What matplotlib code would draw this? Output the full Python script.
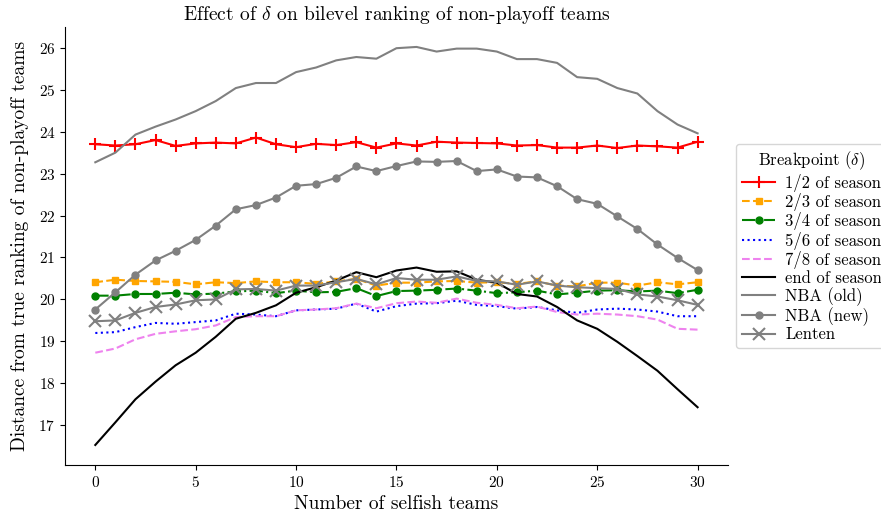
import matplotlib
matplotlib.use("Agg")
import matplotlib.pyplot as plt
import numpy as np

plt.rcParams.update({
    'font.family': 'serif',
    'font.serif': ['cmr10'],
    'mathtext.fontset': 'cm',
    'axes.formatter.use_mathtext': True,
    'axes.unicode_minus': False,
})

x = list(range(31))

half = [23.70, 23.67, 23.70, 23.80, 23.66, 23.72, 23.74, 23.72, 23.86, 23.70,
        23.63, 23.71, 23.68, 23.75, 23.62, 23.72, 23.67, 23.76, 23.74, 23.73,
        23.72, 23.67, 23.68, 23.62, 23.62, 23.67, 23.61, 23.67, 23.65, 23.62, 23.76]
two_thirds = [20.41, 20.47, 20.44, 20.43, 20.42, 20.36, 20.41, 20.39, 20.43, 20.41,
              20.41, 20.37, 20.43, 20.49, 20.33, 20.40, 20.40, 20.43, 20.44, 20.40,
              20.41, 20.37, 20.43, 20.33, 20.31, 20.40, 20.40, 20.33, 20.41, 20.36, 20.41]
three_quarters = [20.09, 20.09, 20.13, 20.13, 20.16, 20.12, 20.14, 20.19, 20.21, 20.15,
                  20.21, 20.17, 20.18, 20.27, 20.08, 20.20, 20.21, 20.23, 20.26, 20.21,
                  20.15, 20.17, 20.21, 20.12, 20.16, 20.21, 20.22, 20.19, 20.21, 20.15, 20.23]
five_sixths = [19.20, 19.22, 19.34, 19.44, 19.42, 19.46, 19.50, 19.66, 19.64, 19.60,
               19.74, 19.76, 19.78, 19.90, 19.71, 19.84, 19.90, 19.91, 19.97, 19.87,
               19.84, 19.78, 19.82, 19.74, 19.68, 19.76, 19.78, 19.76, 19.71, 19.60, 19.60]
seven_eighths = [18.73, 18.83, 19.05, 19.18, 19.24, 19.29, 19.38, 19.58, 19.60, 19.60,
                 19.74, 19.76, 19.79, 19.90, 19.79, 19.91, 19.95, 19.92, 20.02, 19.92,
                 19.87, 19.79, 19.83, 19.70, 19.64, 19.66, 19.64, 19.60, 19.52, 19.30, 19.28]
end_season = [16.53, 17.07, 17.62, 18.04, 18.43, 18.73, 19.11, 19.54, 19.68, 19.86,
              20.16, 20.29, 20.45, 20.65, 20.53, 20.69, 20.76, 20.66, 20.67, 20.47,
              20.40, 20.13, 20.07, 19.82, 19.50, 19.30, 18.99, 18.65, 18.30, 17.86, 17.43]
nba_old = [23.27, 23.50, 23.93, 24.12, 24.29, 24.49, 24.73, 25.04, 25.16, 25.16,
           25.42, 25.53, 25.70, 25.78, 25.74, 25.99, 26.02, 25.91, 25.98, 25.98,
           25.91, 25.73, 25.73, 25.64, 25.30, 25.26, 25.04, 24.91, 24.49, 24.17, 23.96]
nba_new = [19.76, 20.17, 20.59, 20.93, 21.16, 21.42, 21.76, 22.15, 22.25, 22.43,
           22.71, 22.75, 22.90, 23.17, 23.06, 23.18, 23.29, 23.28, 23.30, 23.06,
           23.10, 22.93, 22.91, 22.70, 22.39, 22.28, 21.98, 21.68, 21.31, 20.99, 20.70]
lenten = [19.48, 19.50, 19.68, 19.82, 19.88, 19.98, 20.00, 20.24, 20.25, 20.21,
          20.33, 20.33, 20.41, 20.49, 20.36, 20.51, 20.47, 20.47, 20.55, 20.44,
          20.43, 20.35, 20.43, 20.33, 20.29, 20.27, 20.25, 20.12, 20.07, 19.98, 19.87]

labels = ['1/2 of season', '2/3 of season', '3/4 of season', '5/6 of season',
          '7/8 of season', 'end of season', 'NBA (old)', 'NBA (new)', 'Lenten']

fig = plt.figure(figsize=(8.81, 5.2), dpi=100)
ax = fig.add_axes([0.074, 0.106, 0.752, 0.842])

ax.plot(x, half, color='red', marker='+', markersize=9, mew=1.5, lw=1.5, label=labels[0])
ax.plot(x, two_thirds, color='orange', marker='s', markersize=4.5, ls='--', lw=1.5, label=labels[1])
ax.plot(x, three_quarters, color='green', marker='o', markersize=5, ls='-.', lw=1.5, label=labels[2])
ax.plot(x, five_sixths, color='blue', ls=':', lw=1.5, label=labels[3])
ax.plot(x, seven_eighths, color='violet', ls='--', lw=1.5, label=labels[4])
ax.plot(x, end_season, color='black', lw=1.5, label=labels[5])
ax.plot(x, nba_old, color='gray', lw=1.5, label=labels[6])
ax.plot(x, nba_new, color='gray', marker='o', markersize=5, lw=1.5, label=labels[7])
ax.plot(x, lenten, color='gray', marker='x', markersize=9, mew=1.5, lw=1.5, label=labels[8])

ax.spines['top'].set_visible(False)
ax.spines['right'].set_visible(False)
ax.set_xticks([0, 5, 10, 15, 20, 25, 30])
ax.set_yticks([17, 18, 19, 20, 21, 22, 23, 24, 25, 26])
ax.tick_params(labelsize=11)

ax.set_title(r'Effect of $\delta$ on bilevel ranking of non-playoff teams', fontsize=14, pad=5)
ax.set_xlabel('Number of selfish teams', fontsize=14, labelpad=4)
ax.set_ylabel('Distance from true ranking of non-playoff teams', fontsize=14, labelpad=7)

ax.legend(title=r'Breakpoint ($\delta$)', loc='center left', bbox_to_anchor=(1.0, 0.5),
          fontsize=12, title_fontsize=12, labelspacing=0.08, handletextpad=0.6,
          borderpad=0.35)

fig.savefig('out.png', dpi=100)
